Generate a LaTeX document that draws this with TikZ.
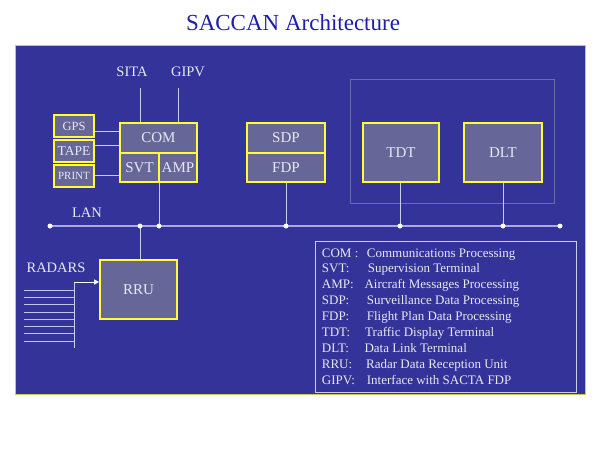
\documentclass[tikz,border=0pt]{standalone}
\usepackage{fontspec}
\setmainfont{Liberation Serif}
\usetikzlibrary{arrows.meta}
\definecolor{framebg}{HTML}{333399}
\definecolor{boxbg}{HTML}{666699}
\definecolor{boxedge}{HTML}{FFFF33}
\definecolor{txt}{HTML}{E8E8F2}
\definecolor{wire}{HTML}{CCCCEE}
\definecolor{lanc}{HTML}{AAAADD}
\definecolor{grp}{HTML}{6A6AAE}
\definecolor{titleblue}{HTML}{1E1EAA}
\tikzset{
  unit/.style={draw=boxedge, line width=1.6pt, fill=boxbg, text=txt, inner sep=0pt,
    font=\fontsize{15}{15}\selectfont},
  lbl/.style={text=txt, inner sep=0pt, font=\fontsize{14.5}{14.5}\selectfont},
  wireline/.style={draw=wire, line width=0.8pt},
  landot/.style={circle, fill=white, inner sep=0pt, minimum size=5pt},
  legtxt/.style={text=txt, inner sep=0pt, anchor=base west, font=\fontsize{13}{13}\selectfont},
}
\begin{document}
\begin{tikzpicture}[x=1pt,y=-1pt]
\useasboundingbox (0,0) rectangle (600,450);
\fill[white] (0,0) rectangle (600,450);
% title
\node[text=titleblue, font=\fontsize{23}{23}\selectfont, inner sep=0pt] (title) at (293,23) {SACCAN Architecture};
% frame
\draw[draw=boxedge!60!gray, line width=0.8pt, fill=framebg] (15,45) rectangle (585,394);
% group box
\draw[draw=grp, line width=0.8pt] (350,79) rectangle (554,203);
% LAN
\coordinate (lan1) at (50,226);
\coordinate (lan2) at (140,226);
\coordinate (lan3) at (159,226);
\coordinate (lan4) at (286,226);
\coordinate (lan5) at (400,226);
\coordinate (lan6) at (503,226);
\coordinate (lan7) at (560,226);
\draw[draw=lanc, line width=2.6pt] (lan1) -- (lan7);
\node[lbl] (lanlbl) at (87,213) {LAN};
% COM complex
\node[unit, minimum width=77pt, minimum height=30pt] (com) at (158.5,138) {COM};
\node[unit, minimum width=39pt, minimum height=29pt] (svt) at (139.5,167.5) {SVT};
\node[unit, minimum width=38pt, minimum height=29pt] (amp) at (178,167.5) {AMP};
% peripherals
\node[unit, minimum width=40pt, minimum height=22pt, font=\fontsize{12.5}{12.5}\selectfont] (gps) at (74,126) {GPS};
\node[unit, minimum width=40pt, minimum height=22pt, font=\fontsize{13.5}{13.5}\selectfont] (tape) at (74,151) {TAPE};
\node[unit, minimum width=40pt, minimum height=22pt, font=\fontsize{11}{11}\selectfont] (print) at (74,176) {PRINT};
% SDP/FDP
\node[unit, minimum width=78pt, minimum height=30pt] (sdp) at (286,138) {SDP};
\node[unit, minimum width=78pt, minimum height=29pt] (fdp) at (286,167.5) {FDP};
% TDT / DLT
\node[unit, minimum width=76pt, minimum height=59pt] (tdt) at (401,152.5) {TDT};
\node[unit, minimum width=78pt, minimum height=59pt] (dlt) at (503,152.5) {DLT};
% RRU
\node[unit, minimum width=77pt, minimum height=59pt] (rru) at (138.5,289.5) {RRU};
% SITA / GIPV
\node[lbl] (sita) at (132,72) {SITA};
\node[lbl] (gipv) at (188,72) {GIPV};
\coordinate (sitaend) at (140,88);
\coordinate (gipvend) at (178,88);
\draw[wireline] (sitaend) -- (sitaend |- com.north);
\draw[wireline] (gipvend) -- (gipvend |- com.north);
% peripheral links
\draw[wireline] (gps.east |- 0,131) -- (com.west |- 0,131);
\draw[wireline] (tape.east |- 0,145) -- (com.west |- 0,145);
\draw[wireline] (print.east |- 0,175) -- (svt.west |- 0,175);
% LAN drops
\draw[wireline] (lan3 |- amp.south) -- (lan3);
\draw[wireline] (fdp.south) -- (lan4);
\draw[wireline] (tdt.south -| lan5) -- (lan5);
\draw[wireline] (dlt.south) -- (lan6);
\draw[wireline] (lan2) -- (lan2 |- rru.north);
\foreach \i in {1,...,7} \node[landot] (dot\i) at (lan\i) {};
% radars
\node[lbl] (radars) at (56,268) {RADARS};
\coordinate (radtop) at (74,282);
\coordinate (radbot) at (74,348);
\draw[wireline] (radbot) -- (radtop);
\draw[wireline, -{Triangle[length=5pt,width=5pt]}, white] (radtop) -- (rru.west |- radtop);
\foreach \k in {0,...,7} {
  \coordinate (rs\k) at (24,290+7.3*\k);
  \draw[draw=wire!80!lanc, line width=0.8pt] (rs\k) -- (rs\k -| radtop);
}
% legend
\draw[draw=wire, line width=0.6pt] (315,241) rectangle (576,392);
\foreach \ab/\dx/\desc [count=\n] in {
  {COM :}/366.7/{Communications Processing},
  {SVT:}/367.7/{Supervision Terminal},
  {AMP:}/364.3/{Aircraft Messages Processing},
  {SDP:}/366.7/{Surveillance Data Processing},
  {FDP:}/366.7/{Flight Plan Data Processing},
  {TDT:}/365/{Traffic Display Terminal},
  {DLT:}/364.3/{Data Link Terminal},
  {RRU:}/366/{Radar Data Reception Unit},
  {GIPV:}/366.7/{Interface with SACTA FDP}} {
  \node[legtxt] (leg\n a) at (321.7,257+15.9*\n-15.9) {\ab};
  \node[legtxt] (leg\n b) at (\dx,257+15.9*\n-15.9) {\desc};
}
\end{tikzpicture}
\end{document}
